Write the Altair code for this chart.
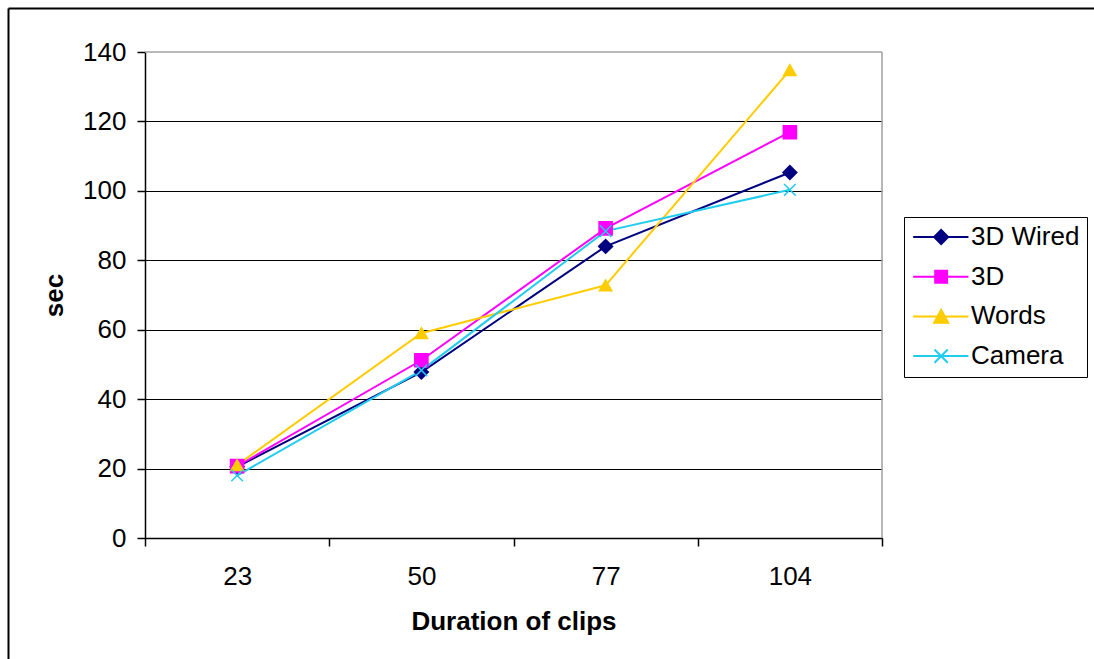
import altair as alt
import pandas as pd

# ---- data ----
durations = ["23", "50", "77", "104"]
series_names = ["3D Wired", "3D", "Words", "Camera"]
wired = [20.5, 47.8, 84.0, 105.3]
three_d = [20.7, 51.2, 89.2, 116.9]
words = [21.0, 59.0, 72.8, 134.8]
camera = [18.0, 48.3, 88.4, 100.3]
y_ticks = [0, 20, 40, 60, 80, 100, 120, 140]

# ---- styles ----
colors = ["#000080", "#FF00FF", "#FFCC00", "#22CCEE"]
shapes = ["diamond", "square", "triangle-up", "M-1,-1L1,1M-1,1L1,-1"]
sizes = [190, 135, 200, 170]
legend_shapes = [
    "M-1.55,0L6.35,0M2.45,-1L3.45,0L2.45,1L1.45,0Z",
    "M-1.55,0L6.35,0M1.6,-0.85L3.3,-0.85L3.3,0.85L1.6,0.85Z",
    "M-1.55,0L6.35,0M2.45,-0.95L3.45,0.9L1.45,0.9Z",
    "M-1.55,0L6.35,0M1.5,-0.95L3.4,0.95M1.5,0.95L3.4,-0.95",
]

rows = []
for name, vals in zip(series_names, [wired, three_d, words, camera]):
    for d, v in zip(durations, vals):
        rows.append({"duration": d, "series": name, "sec": v})
df = pd.DataFrame(rows)

W, H = 737, 486
FONT = "Liberation Sans"
FS = 26

x_enc = alt.X(
    "duration:O",
    sort=durations,
    scale=alt.Scale(type="band", domain=durations, paddingInner=0, paddingOuter=0),
    axis=alt.Axis(
        title="Duration of clips",
        tickBand="extent",
        labelAngle=0,
        tickSize=8,
        tickWidth=1.5,
        tickColor="black",
        domainColor="black",
        domainWidth=1.5,
        labelPadding=17,
        titlePadding=19,
        labelFont=FONT,
        labelFontSize=FS,
        labelColor="black",
        titleFont=FONT,
        titleFontSize=FS,
        titleFontWeight="bold",
        titleColor="black",
        grid=False,
    ),
)
y_enc = alt.Y(
    "sec:Q",
    scale=alt.Scale(domain=[0, 140], nice=False),
    axis=alt.Axis(
        title="sec",
        values=y_ticks,
        tickSize=8,
        tickWidth=1.5,
        tickColor="black",
        domainColor="black",
        domainWidth=1.5,
        grid=True,
        gridColor={"condition": {"test": "datum.value === 140", "value": "transparent"}, "value": "black"},
        gridWidth=1,
        labelPadding=11,
        titlePadding=15,
        labelFont=FONT,
        labelFontSize=FS,
        labelColor="black",
        titleFont=FONT,
        titleFontSize=FS,
        titleFontWeight="bold",
        titleColor="black",
    ),
)

def sc(rng):
    return alt.Scale(domain=series_names, range=rng)

lines = alt.Chart(df).mark_line(strokeWidth=2).encode(
    x=x_enc, y=y_enc,
    color=alt.Color("series:N", scale=sc(colors), legend=None),
)

points = alt.Chart(df).mark_point(filled=True, opacity=1, strokeWidth=1.5).encode(
    x=x_enc, y=y_enc,
    fill=alt.Fill("series:N", scale=sc(colors), legend=None),
    stroke=alt.Stroke("series:N", scale=sc(colors), legend=None),
    shape=alt.Shape("series:N", scale=sc(shapes), legend=None),
    size=alt.Size("series:N", scale=sc(sizes), legend=None),
)

leg = alt.Legend(
    title=None,
    orient="none",
    legendX=759,
    legendY=165,
    padding=7,
    rowPadding=13.7,
    strokeColor="black",
    symbolSize=196,
    symbolStrokeWidth=2,
    symbolOpacity=1,
    labelOffset=34,
    labelFont=FONT,
    labelFontSize=FS,
    labelColor="black",
    labelLimit=400,
)

legend_layer = alt.Chart(df).transform_filter("false").mark_point(
    filled=True, opacity=1, size=196, strokeWidth=2
).encode(
    x=x_enc, y=y_enc,
    fill=alt.Fill("series:N", scale=sc(colors), legend=leg),
    stroke=alt.Stroke("series:N", scale=sc(colors), legend=leg),
    shape=alt.Shape("series:N", scale=sc(legend_shapes), legend=leg),
)

one = alt.Data(values=[{}])
plot_top = alt.Chart(one).mark_rule(color="#A0A0A0", strokeWidth=1.5).encode(
    x=alt.value(0), x2=alt.value(W), y=alt.value(0)
)
plot_right = alt.Chart(one).mark_rule(color="#A0A0A0", strokeWidth=1.5).encode(
    x=alt.value(W), y=alt.value(0), y2=alt.value(H)
)
frame_left = alt.Chart(one).mark_rule(color="black", strokeWidth=2).encode(
    x=alt.value(-136.5), y=alt.value(-43.5), y2=alt.value(H + 140)
)
frame_top = alt.Chart(one).mark_rule(color="black", strokeWidth=2).encode(
    x=alt.value(-136.5), x2=alt.value(W + 230), y=alt.value(-43.5)
)

chart = alt.layer(
    plot_top, plot_right, lines, points, legend_layer, frame_left, frame_top
).resolve_scale(
    color="independent", fill="independent", stroke="independent",
    shape="independent", size="independent",
).properties(
    width=W, height=H,
    autosize=alt.AutoSizeParams(type="none"),
    padding={"left": 145, "top": 52, "right": 212, "bottom": 121},
    background="white",
).configure_view(stroke=None)

chart.save("out.html", embed_options={"renderer": "svg", "actions": False})
